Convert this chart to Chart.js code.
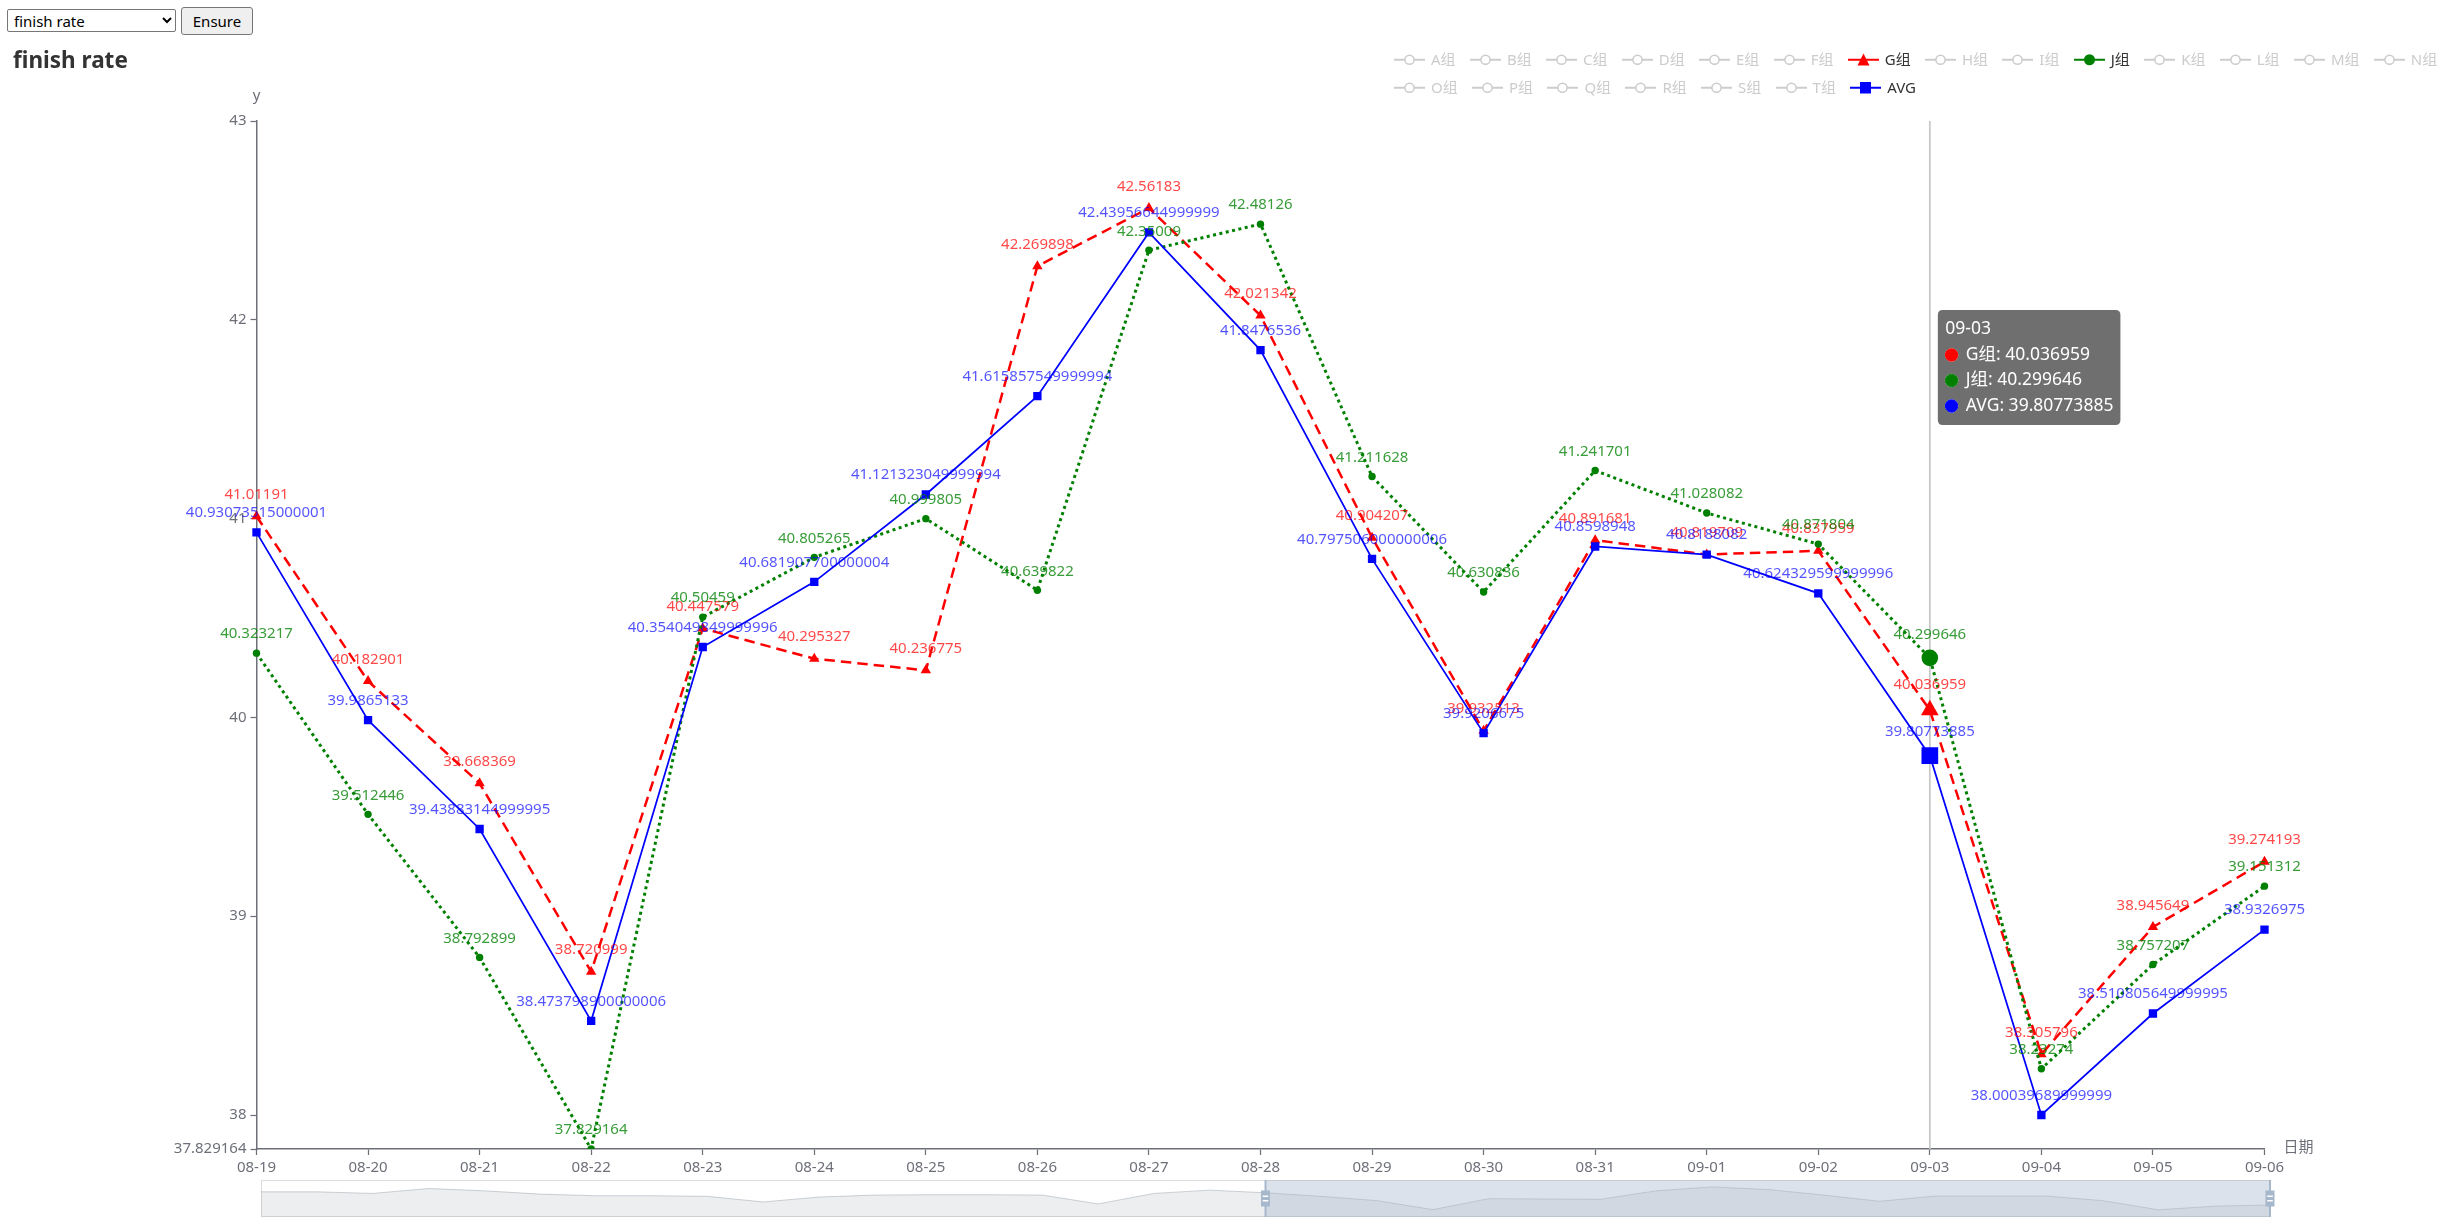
<!DOCTYPE html>
<html>
<head>
<meta charset="utf-8">
<script src="https://cdn.jsdelivr.net/npm/chart.js@4.4.1/dist/chart.umd.min.js"></script>
<style>
html,body{margin:0;padding:0;background:#fff;width:2461px;height:1232px;overflow:hidden;font-family:'Noto Sans','Noto Sans CJK SC',sans-serif;}
#main{position:absolute;left:0;top:0;z-index:1;}
#slider{position:absolute;left:250.5px;top:1180px;z-index:2;}
#sel{position:absolute;left:7px;top:9px;width:169px;height:23px;font-size:15px;font-family:'Noto Sans',sans-serif;border:1px solid #767676;border-radius:2px;background:#fff;padding:0 2px;z-index:3;box-sizing:border-box;color:#000;}
#btn{position:absolute;left:181px;top:7px;width:72px;height:28px;font-size:15px;font-family:'Noto Sans',sans-serif;border:1px solid #767676;border-radius:3px;background:#efefef;z-index:3;box-sizing:border-box;padding:0;color:#000;}
#title{position:absolute;left:13px;top:45px;font-weight:bold;font-size:22.5px;line-height:30px;color:#333;z-index:3;}
#legend{position:absolute;left:1394px;top:45px;z-index:3;font-size:15px;}
.lrow{display:flex;height:28.5px;align-items:center;}
.litem{display:flex;align-items:center;margin-right:14.3px;}
.litem svg{display:block;}
.litem span{margin-left:6px;line-height:17.5px;white-space:nowrap;}
</style>
</head>
<body>
<select id="sel"><option>finish rate</option></select>
<button id="btn">Ensure</button>
<div id="title">finish rate</div>
<div id="legend"></div>
<canvas id="main" width="2461" height="1232"></canvas>
<canvas id="slider" width="2029" height="37"></canvas>
<script>
// ---------------- data ----------------
const categories = ['08-19','08-20','08-21','08-22','08-23','08-24','08-25','08-26','08-27','08-28','08-29','08-30','08-31','09-01','09-02','09-03','09-04','09-05','09-06'];
const seriesG = [41.01191, 40.182901, 39.668369, 38.720999, 40.447579, 40.295327, 40.236775, 42.269898, 42.56183, 42.021342, 40.904207, 39.932513, 40.891681, 40.819709, 40.837959, 40.036959, 38.305796, 38.945649, 39.274193];
const seriesJ = [40.323217, 39.512446, 38.792899, 37.829164, 40.50459, 40.805265, 40.999805, 40.639822, 42.35009, 42.48126, 41.211628, 40.630836, 41.241701, 41.028082, 40.871804, 40.299646, 38.23274, 38.757207, 39.151312];
const seriesAVG = [40.93073515000001, 39.9865133, 39.43883144999995, 38.473798900000006, 40.354049849999996, 40.681907700000004, 41.121323049999994, 41.615857549999994, 42.43956644999999, 41.8476536, 40.797506000000006, 39.9206675, 40.8598948, 40.8188082, 40.624329599999996, 39.80773885, 38.00039689999999, 38.510805649999995, 38.9326975];
const yTickValues = [37.829164, 38, 39, 40, 41, 42, 43];
const legendGroups = ['A组','B组','C组','D组','E组','F组','G组','H组','I组','J组','K组','L组','M组','N组','O组','P组','Q组','R组','S组','T组','AVG'];
const activeGroups = ['G组','J组','AVG'];
const tooltipDate = '09-03';
const sliderShadow = [0.681,0.681,0.637,0.77,0.708,0.619,0.575,0.575,0.558,0.407,0.54,0.593,0.602,0.602,0.593,0.354,0.637,0.726,0.655,0.558,0.442,0.2,0.496,0.487,0.478,0.708,0.814,0.743,0.593,0.425,0.566,0.566,0.566,0.442,0.195,0.292,0.327];
const sliderRange = [18, 36];

// ---------------- styles ----------------
const FONT = "'Noto Sans', 'Noto Sans CJK SC', sans-serif";
const AXIS = '#6E7079';
const styles = {
  'G组': {color:'#ff0000', labelColor:'rgba(255,0,0,0.72)', dash:[10.5,6], width:2.5, pointStyle:'triangle', r:6, hr:10.2, half:6.5},
  'J组': {color:'#008000', labelColor:'rgba(0,128,0,0.78)', dash:[3,3.5], width:3, pointStyle:'circle', r:3.7, hr:8.3, half:3.7},
  'AVG': {color:'#0000ff', labelColor:'rgba(0,0,255,0.68)', dash:[], width:1.75, pointStyle:'rect', r:5.9, hr:11.8, half:4.2}
};
Chart.defaults.font.family = FONT;

// ---------------- legend (HTML) ----------------
function iconSVG(name) {
  const act = activeGroups.includes(name);
  const st = styles[name];
  const c = act ? st.color : '#ccc';
  let sym;
  if (!act) sym = '<circle cx="15.5" cy="8.75" r="4.6" fill="#fff" stroke="#ccc" stroke-width="1.5"/>';
  else if (st.pointStyle === 'triangle') sym = '<polygon points="15.5,2.5 21.5,14.5 9.5,14.5" fill="'+c+'"/>';
  else if (st.pointStyle === 'circle') sym = '<circle cx="15.5" cy="8.75" r="5.5" fill="'+c+'"/>';
  else sym = '<rect x="10" y="3" width="11" height="11.5" fill="'+c+'"/>';
  return '<svg width="31" height="17.5" viewBox="0 0 31 17.5"><line x1="0" y1="8.75" x2="31" y2="8.75" stroke="'+c+'" stroke-width="2"/>'+sym+'</svg>';
}
(function buildLegend(){
  const el = document.getElementById('legend');
  const rows = [legendGroups.slice(0,14), legendGroups.slice(14)];
  el.innerHTML = rows.map(r => '<div class="lrow">' + r.map((n,i) =>
    '<div class="litem" style="'+(i===r.length-1?'margin-right:0':'')+'">' + iconSVG(n) +
    '<span style="color:'+(activeGroups.includes(n)?'#333':'#ccc')+'">'+n+'</span></div>').join('') + '</div>').join('');
})();

// ---------------- plugins ----------------
const pointerLine = {
  id:'pointerLine',
  beforeDatasetsDraw(chart){
    const a = chart.tooltip.getActiveElements();
    if (!a.length) return;
    const x = a[0].element.x, ca = chart.chartArea, ctx = chart.ctx;
    ctx.save(); ctx.strokeStyle = '#c8c8c8'; ctx.lineWidth = 1.75;
    ctx.beginPath(); ctx.moveTo(x, ca.top); ctx.lineTo(x, ca.bottom); ctx.stroke(); ctx.restore();
  }
};
const valueLabels = {
  id:'valueLabels',
  afterDatasetsDraw(chart){
    const ctx = chart.ctx;
    const active = chart.getActiveElements();
    ctx.save();
    ctx.font = '15px ' + FONT; ctx.textAlign = 'center'; ctx.textBaseline = 'middle';
    chart.data.datasets.forEach((ds, di) => {
      const st = styles[ds.label];
      const meta = chart.getDatasetMeta(di);
      ctx.fillStyle = st.labelColor;
      meta.data.forEach((el, i) => {
        const isAct = active.some(a => a.datasetIndex === di && a.index === i);
        const off = st.half + 6.25 + 9 + (isAct ? 4 : 0);
        ctx.fillText(String(ds.data[i]), el.x, el.y - off);
      });
    });
    ctx.restore();
  }
};
const axisNames = {
  id:'axisNames',
  afterDraw(chart){
    const ctx = chart.ctx, ca = chart.chartArea;
    ctx.save(); ctx.font = '15px ' + FONT; ctx.fillStyle = AXIS; ctx.textBaseline = 'middle';
    ctx.textAlign = 'center'; ctx.fillText('y', ca.left, ca.top - 25);
    ctx.textAlign = 'left'; ctx.fillText('日期', ca.right + 19, ca.bottom - 1);
    ctx.restore();
  }
};
Chart.Tooltip.positioners.echartsRight = function(items){
  if (!items.length) return false;
  const ca = this.chart.chartArea;
  return {x: items[0].element.x + 13, y: ca.top + 189};
};

// ---------------- main chart ----------------
const seriesList = [['G组', seriesG, 3], ['J组', seriesJ, 2], ['AVG', seriesAVG, 1]];
const datasets = seriesList.map(([name, data, order]) => {
  const st = styles[name];
  return {
    label: name, data: data, order: order,
    borderColor: st.color, backgroundColor: st.color, borderWidth: st.width, borderDash: st.dash,
    pointStyle: st.pointStyle, pointRadius: st.r, pointHoverRadius: st.hr,
    pointBackgroundColor: st.color, pointBorderColor: st.color, pointBorderWidth: 0,
    pointHoverBackgroundColor: st.color, pointHoverBorderColor: st.color, pointHoverBorderWidth: 0,
    tension: 0, fill: false
  };
});

const chart = new Chart(document.getElementById('main'), {
  type: 'line',
  data: {labels: categories, datasets: datasets},
  options: {
    responsive: false, animation: false, events: [],
    layout: {padding: {left: 0, top: 121, right: 196.5, bottom: 43}},
    interaction: {mode: 'index', intersect: false},
    scales: {
      x: {
        type: 'category', offset: false,
        afterFit(s){ s.height = 40; },
        grid: {display: true, drawOnChartArea: false, drawTicks: true, tickLength: 6, tickColor: AXIS, tickWidth: 1.25, offset: false},
        border: {display: true, color: AXIS, width: 1.5},
        ticks: {color: AXIS, font: {size: 15}, padding: 4, autoSkip: false, maxRotation: 0}
      },
      y: {
        type: 'linear', min: yTickValues[0], max: yTickValues[yTickValues.length - 1],
        afterFit(s){ s.width = 256.5; },
        afterBuildTicks(s){ s.ticks = yTickValues.map(v => ({value: v})); },
        grid: {display: true, drawOnChartArea: false, drawTicks: true, tickLength: 6, tickColor: AXIS, tickWidth: 1.25},
        border: {display: true, color: AXIS, width: 1.5},
        ticks: {color: AXIS, font: {size: 15}, padding: 4, callback: v => String(v)}
      }
    },
    plugins: {
      legend: {display: false},
      title: {display: false},
      tooltip: {
        enabled: true, mode: 'index', intersect: false, position: 'echartsRight',
        xAlign: 'left', yAlign: 'top', caretSize: 0, caretPadding: 0, cornerRadius: 5,
        backgroundColor: 'rgba(50,50,50,0.7)', titleColor: '#fff', bodyColor: '#fff',
        titleFont: {size: 17.5, weight: 'normal'}, bodyFont: {size: 17.5},
        padding: {left: 7.5, right: 7, top: 8.5, bottom: 8.5},
        titleMarginBottom: 5, bodySpacing: 4.5, boxWidth: 12.5, boxHeight: 12.5, boxPadding: 6,
        usePointStyle: true, displayColors: true,
        itemSort: (a, b) => a.datasetIndex - b.datasetIndex,
        callbacks: {
          label: c => c.dataset.label + ': ' + c.raw,
          labelPointStyle: () => ({pointStyle: 'circle', rotation: 0}),
          labelColor: c => ({borderColor: styles[c.dataset.label].color, backgroundColor: styles[c.dataset.label].color, borderWidth: 0})
        }
      }
    }
  },
  plugins: [pointerLine, valueLabels, axisNames]
});

const tipIndex = categories.indexOf(tooltipDate);
const activeEls = datasets.map((d, i) => ({datasetIndex: i, index: tipIndex}));
chart.setActiveElements(activeEls);
chart.tooltip.setActiveElements(activeEls, {x: 0, y: 0});
chart.update();

// ---------------- dataZoom slider ----------------
const sliderDecor = {
  id:'sliderDecor',
  beforeDatasetsDraw(c){
    const ctx = c.ctx, ca = c.chartArea;
    ctx.save(); ctx.strokeStyle = '#ddd'; ctx.lineWidth = 1;
    ctx.strokeRect(ca.left + 0.5, ca.top + 0.5, ca.right - ca.left - 1, ca.bottom - ca.top - 1);
    ctx.restore();
  },
  afterDatasetsDraw(c){
    const ctx = c.ctx, ca = c.chartArea, xs = c.scales.x;
    const x0 = xs.getPixelForValue(sliderRange[0]), x1 = xs.getPixelForValue(sliderRange[1]);
    ctx.save();
    ctx.fillStyle = 'rgba(167,183,204,0.4)';
    ctx.fillRect(x0, ca.top, x1 - x0, ca.bottom - ca.top);
    const mid = (ca.top + ca.bottom) / 2;
    [x0, x1].forEach(x => {
      ctx.fillStyle = '#a7b7cc';
      ctx.fillRect(x - 1, ca.top, 2, ca.bottom - ca.top);
      ctx.fillRect(x - 4.5, mid - 8, 9, 16);
      ctx.fillStyle = '#fff';
      ctx.fillRect(x - 2.8, mid - 3, 5.6, 1.5);
      ctx.fillRect(x - 2.8, mid + 1.5, 5.6, 1.5);
    });
    ctx.restore();
  }
};
new Chart(document.getElementById('slider'), {
  type: 'line',
  data: {labels: sliderShadow.map((v, i) => i), datasets: [{
    data: sliderShadow, borderColor: 'rgba(47,69,84,0.3)', borderWidth: 0.75,
    backgroundColor: 'rgba(47,69,84,0.09)', fill: 'start', pointRadius: 0, tension: 0
  }]},
  options: {
    responsive: false, animation: false, events: [],
    layout: {padding: {left: 10, right: 10, top: 0, bottom: 0}},
    scales: {x: {display: false, offset: false}, y: {display: false, min: 0, max: 1}},
    plugins: {legend: {display: false}, tooltip: {enabled: false}}
  },
  plugins: [sliderDecor]
});
</script>
</body>
</html>
